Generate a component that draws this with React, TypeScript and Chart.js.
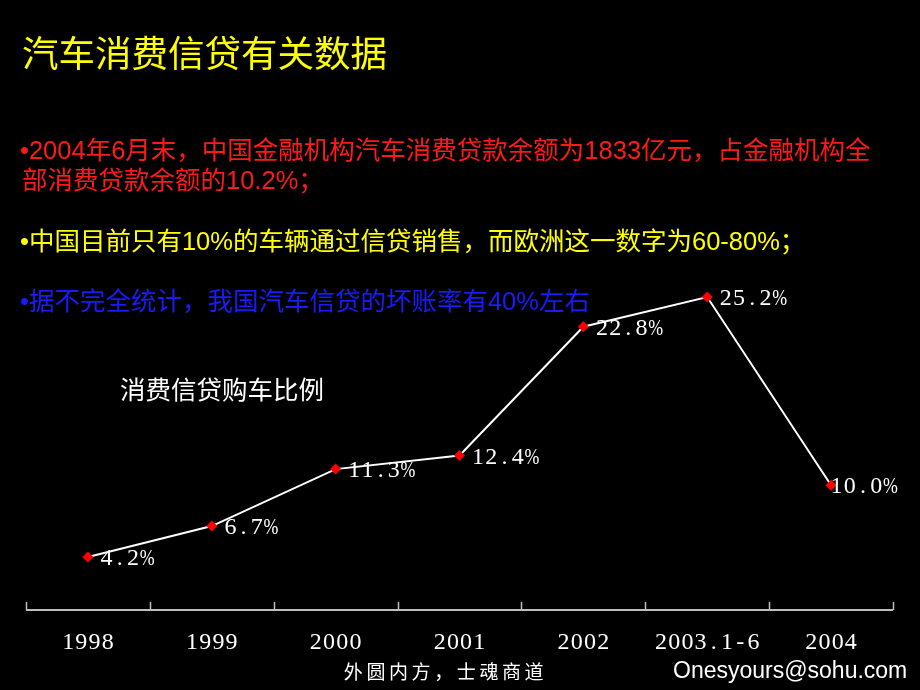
import React, { useEffect, useRef } from "react";
import { Chart, registerables } from "chart.js";

Chart.register(...registerables);

// ---- data ----
const categories = ["1998", "1999", "2000", "2001", "2002", "2003.1-6", "2004"];
const ratioValues = [4.2, 6.7, 11.3, 12.4, 22.8, 25.2, 10.0];
const seriesName = "消费信贷购车比例";
const yMin = 0;
const yMax = 30;

const titleText = "汽车消费信贷有关数据";
const bulletRed1 = "•2004年6月末，中国金融机构汽车消费贷款余额为1833亿元，占金融机构全";
const bulletRed2 = "部消费贷款余额的10.2%；";
const bulletYellow = "•中国目前只有10%的车辆通过信贷销售，而欧洲这一数字为60-80%；";
const bulletBlue = "•据不完全统计，我国汽车信贷的坏账率有40%左右";
const footerMotto = "外圆内方，士魂商道";
const footerEmail = "Onesyours@sohu.com";

const W = 920;
const H = 690;

function cellWidth(c: string, adv: number) {
  return c === "%" ? adv * 1.15 : adv;
}

function spacedWidth(text: string, adv: number) {
  return Array.from(text).reduce((s, c) => s + cellWidth(c, adv), 0);
}

function drawSpaced(ctx: CanvasRenderingContext2D, text: string, x: number, y: number, adv: number, align: "left" | "center") {
  const chars = Array.from(text);
  const total = spacedWidth(text, adv);
  let pos = align === "center" ? x - total / 2 : x;
  ctx.save();
  ctx.textAlign = "center";
  ctx.textBaseline = "middle";
  chars.forEach((c) => {
    const cw = cellWidth(c, adv);
    const cx = pos + cw / 2;
    const w = ctx.measureText(c).width;
    const maxW = cw * 0.98;
    if (w > maxW) {
      ctx.save();
      ctx.translate(cx, y);
      ctx.scale(maxW / w, 1);
      ctx.fillText(c, 0, 0);
      ctx.restore();
    } else {
      ctx.fillText(c, cx, y);
    }
    pos += cw;
  });
  ctx.restore();
}

const decorPlugin = {
  id: "decor",
  beforeDraw(chart: any) {
    const ctx = chart.ctx as CanvasRenderingContext2D;
    ctx.save();
    ctx.fillStyle = "#000000";
    ctx.fillRect(0, 0, chart.width, chart.height);
    ctx.restore();
  },
  afterDraw(chart: any) {
    const ctx = chart.ctx as CanvasRenderingContext2D;
    const xs = chart.scales.x;
    const ys = chart.scales.y;
    const y0 = ys.getPixelForValue(0);

    // axis line and tick marks
    ctx.save();
    ctx.strokeStyle = "#bdbdbd";
    ctx.lineWidth = 2;
    const left = xs.getPixelForValue(-0.5);
    const right = xs.getPixelForValue(categories.length - 0.5);
    ctx.beginPath();
    ctx.moveTo(left, y0 + 1);
    ctx.lineTo(right, y0 + 1);
    ctx.stroke();
    ctx.lineWidth = 1.5;
    for (let i = 0; i <= categories.length; i++) {
      const px = Math.round(xs.getPixelForValue(i - 0.5)) + 0.5;
      ctx.beginPath();
      ctx.moveTo(px, y0 + 1);
      ctx.lineTo(px, y0 - 7);
      ctx.stroke();
    }
    ctx.restore();

    // category labels
    ctx.save();
    ctx.fillStyle = "#ffffff";
    ctx.font = "24px 'Liberation Serif'";
    categories.forEach((c, i) => {
      drawSpaced(ctx, c, xs.getPixelForValue(i), y0 + 34, 13.2, "center");
    });
    ctx.restore();

    // value labels (kept inside the slide's right margin)
    const meta = chart.getDatasetMeta(0);
    ctx.save();
    ctx.fillStyle = "#ffffff";
    ctx.font = "24px 'Liberation Serif'";
    const maxRight = chart.width - 22;
    meta.data.forEach((pt: any, i: number) => {
      const txt = ratioValues[i].toFixed(1) + "%";
      const w = spacedWidth(txt, 13.2);
      const lx = Math.min(pt.x + 12, maxRight - w);
      drawSpaced(ctx, txt, lx, pt.y + 2, 13.2, "left");
    });
    ctx.restore();

    // texts
    ctx.save();
    ctx.textBaseline = "middle";
    ctx.textAlign = "left";
    ctx.fillStyle = "#ffff00";
    ctx.font = "36.5px 'Noto Sans CJK SC'";
    ctx.fillText(titleText, 22, 53);

    ctx.font = "25.5px 'Liberation Sans', 'Noto Sans CJK SC'";
    ctx.fillStyle = "#ff1a1a";
    ctx.fillText(bulletRed1, 20, 152);
    ctx.fillText(bulletRed2, 22, 182);
    ctx.fillStyle = "#ffff00";
    ctx.fillText(bulletYellow, 20, 243);
    ctx.fillStyle = "#1a1aff";
    ctx.fillText(bulletBlue, 20, 303);

    ctx.fillStyle = "#ffffff";
    ctx.font = "25.5px 'Noto Sans CJK SC'";
    ctx.fillText(seriesName, 120, 389);

    ctx.font = "19px 'Noto Sans CJK SC'";
    drawSpaced(ctx, footerMotto, 342, 672, 22.6, "left");

    ctx.font = "23px 'Liberation Sans'";
    ctx.fillText(footerEmail, 673, 672);
    ctx.restore();
  },
};

export default function App() {
  const ref = useRef<HTMLCanvasElement | null>(null);
  useEffect(() => {
    if (!ref.current) return;
    const pxPerUnit = 12.38;
    const bottom = 609;
    const top = bottom - (yMax - yMin) * pxPerUnit;
    const chart = new Chart(ref.current, {
      type: "line",
      data: {
        labels: categories,
        datasets: [
          {
            label: seriesName,
            data: ratioValues,
            borderColor: "#ffffff",
            borderWidth: 2,
            tension: 0,
            pointStyle: "rectRot",
            pointRadius: 5.5,
            pointBackgroundColor: "#ff0000",
            pointBorderColor: "#ff0000",
            pointBorderWidth: 0,
            fill: false,
          },
        ],
      },
      options: {
        responsive: false,
        animation: false,
        devicePixelRatio: 1,
        layout: { padding: { left: 26, right: 27, top: top, bottom: H - bottom } },
        scales: {
          x: { type: "category", offset: true, display: false },
          y: { min: yMin, max: yMax, display: false },
        },
        plugins: { legend: { display: false }, tooltip: { enabled: false } },
      },
      plugins: [decorPlugin],
    });
    return () => chart.destroy();
  }, []);
  return (
    <div style={{ position: "fixed", left: 0, top: 0, width: W, height: H, background: "#000" }}>
      <canvas ref={ref} width={W} height={H} style={{ display: "block" }} />
    </div>
  );
}
